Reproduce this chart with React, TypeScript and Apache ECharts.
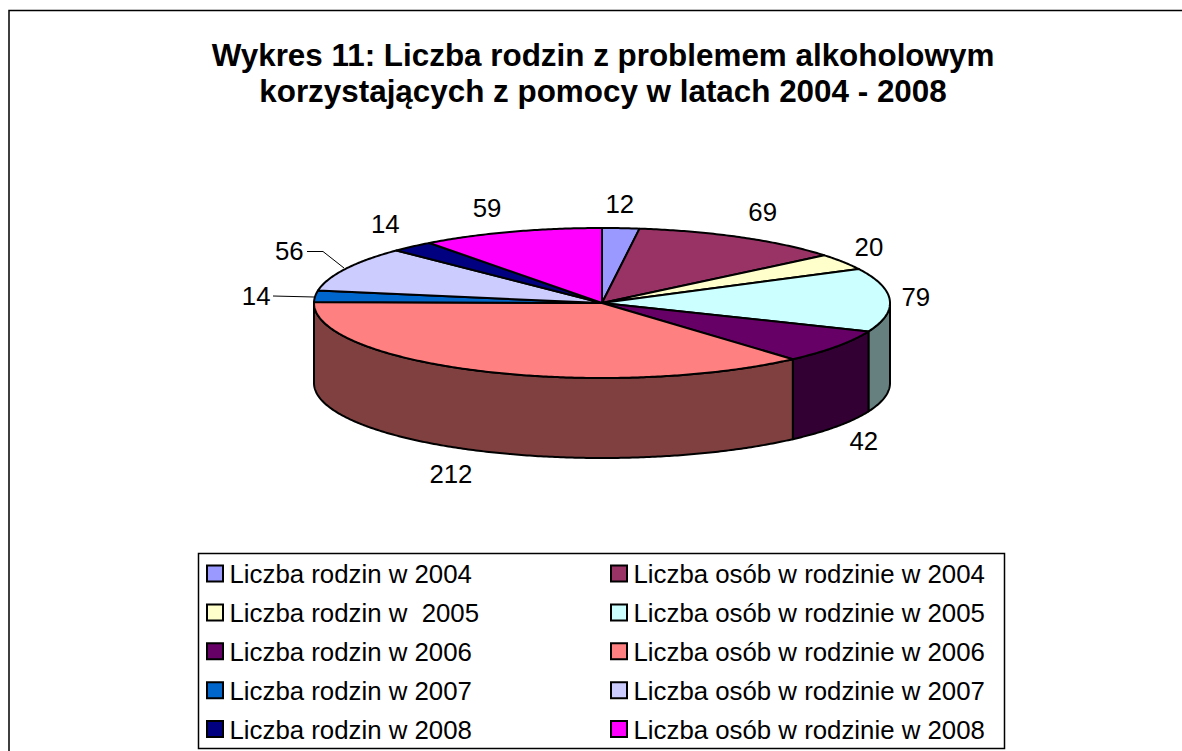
import React, { useEffect, useRef } from "react";
import * as echarts from "echarts";

const titleLines = [
  "Wykres 11: Liczba rodzin z problemem alkoholowym",
  "korzystających z pomocy w latach 2004 - 2008",
];
const categories = [
  "Liczba rodzin w 2004",
  "Liczba osób w rodzinie w 2004",
  "Liczba rodzin w  2005",
  "Liczba osób w rodzinie w 2005",
  "Liczba rodzin w 2006",
  "Liczba osób w rodzinie w 2006",
  "Liczba rodzin w 2007",
  "Liczba osób w rodzinie w 2007",
  "Liczba rodzin w 2008",
  "Liczba osób w rodzinie w 2008",
];
const values = [12, 69, 20, 79, 42, 212, 14, 56, 14, 59];
const topColors = ["#9999FF", "#993366", "#FFFFCC", "#CCFFFF", "#660066", "#FF8080", "#0066CC", "#CCCCFF", "#000080", "#FF00FF"];
const sideColors = ["#4D4D80", "#4D1A33", "#808066", "#668080", "#330033", "#804040", "#003366", "#666680", "#000040", "#800080"];

// Layout only: label offset from the slice's rim point.
const labelOffsets: [number, number][] = [
  [-1, -24], [21, -25], [26, -15], [26, -3], [27, 15], [-31, 23], [-59, 0], [-56, -18], [-27, -23], [-24, -24],
];

const FONT = '"Liberation Sans", Arial, sans-serif';
const CX = 602, CY = 303, RX = 288, RY = 75, DEPTH = 80;
const total = values.reduce((a, b) => a + b, 0);
const startAngles: number[] = [];
values.reduce((acc, v, i) => { startAngles[i] = acc; return acc + v; }, 0);
const toAngle = (v: number) => (v / total) * Math.PI * 2;
const rim = (a: number, dy = 0): [number, number] => [CX + RX * Math.sin(a), CY - RY * Math.cos(a) + dy];
const arc = (a0: number, a1: number, dy = 0) => {
  const n = Math.max(2, Math.ceil(Math.abs(a1 - a0) / 0.01));
  const pts: [number, number][] = [];
  for (let i = 0; i <= n; i++) pts.push(rim(a0 + ((a1 - a0) * i) / n, dy));
  return pts;
};

function renderSlice(params: any, api: any) {
  const i = params.dataIndex;
  const a0 = toAngle(startAngles[i]);
  const a1 = a0 + toAngle(api.value(0));
  return {
    type: "polygon",
    shape: { points: [[CX, CY], ...arc(a0, a1)] },
    style: { fill: topColors[i], stroke: "#000", lineWidth: 2, lineJoin: "round" },
  };
}
function renderSide(params: any, api: any) {
  const i = params.dataIndex;
  const a0 = Math.max(toAngle(startAngles[i]), Math.PI / 2);
  const a1 = Math.min(toAngle(startAngles[i]) + toAngle(api.value(0)), Math.PI * 1.5);
  if (a1 <= a0) return { type: "group", children: [] };
  return {
    type: "polygon",
    shape: { points: [...arc(a0, a1), ...arc(a1, a0, DEPTH)] },
    style: { fill: sideColors[i], stroke: "#000", lineWidth: 2, lineJoin: "round" },
  };
}
function renderLabel(params: any, api: any) {
  const i = params.dataIndex;
  const v = api.value(0);
  const mid = toAngle(startAngles[i]) + toAngle(v) / 2;
  const front = Math.cos(mid) < 0 && Math.sin(mid) > -0.9;
  const [x, y] = rim(mid, front ? DEPTH : 0);
  return {
    type: "text",
    style: {
      x: x + labelOffsets[i][0], y: y + labelOffsets[i][1], text: String(v),
      font: `25.8px ${FONT}`, fill: "#000", align: "center", verticalAlign: "middle",
    },
  };
}

export default function App() {
  const ref = useRef<HTMLDivElement>(null);
  useEffect(() => {
    const chart = echarts.init(ref.current!, undefined, { renderer: "svg" });
    const legendItems: any[] = [];
    categories.forEach((name, i) => {
      const col = i % 2, row = Math.floor(i / 2);
      const y = 574 + row * 38.9;
      const sx = col === 0 ? 207 : 611;
      legendItems.push({
        type: "rect", shape: { x: sx, y: y - 8.5, width: 16, height: 16 },
        style: { fill: topColors[i], stroke: "#000", lineWidth: 2 },
      });
      legendItems.push({
        type: "text",
        style: { x: sx + 22.5, y, text: name, font: `25.8px ${FONT}`, fill: "#000", verticalAlign: "middle", align: "left" },
      });
    });
    chart.setOption({
      animation: false,
      backgroundColor: "#fff",
      graphic: [
        { type: "rect", z: 0, shape: { x: 9, y: 10.5, width: 1200, height: 780 }, style: { fill: "#fff", stroke: "#000", lineWidth: 1.5 } },
        ...titleLines.map((t, i) => ({
          type: "text", z: 5,
          style: { x: 603, y: 55 + i * 36, text: t, font: `bold 31.4px ${FONT}`, fill: "#000", align: "center", verticalAlign: "middle" },
        })),
        { type: "rect", z: 5, shape: { x: 198.5, y: 553.5, width: 806, height: 195 }, style: { fill: "#fff", stroke: "#000", lineWidth: 1.5 } },
        ...legendItems.map((e) => ({ ...e, z: 6 })),
        { type: "polyline", z: 5, shape: { points: [[307, 251.5], [323, 251.5], [344, 268]] }, style: { stroke: "#000", lineWidth: 1, fill: "none" } },
        { type: "line", z: 5, shape: { x1: 273, y1: 296, x2: 314, y2: 297 }, style: { stroke: "#000", lineWidth: 1 } },
      ],
      series: [
        { type: "custom", coordinateSystem: "none", z: 2, data: values, renderItem: renderSide, silent: true },
        { type: "custom", coordinateSystem: "none", z: 3, data: values, renderItem: renderSlice, silent: true },
        { type: "custom", coordinateSystem: "none", z: 4, data: values, renderItem: renderLabel, silent: true },
      ],
    });
    return () => chart.dispose();
  }, []);
  return <div ref={ref} style={{ position: "fixed", left: 0, top: 0, width: 1182, height: 751 }} />;
}
